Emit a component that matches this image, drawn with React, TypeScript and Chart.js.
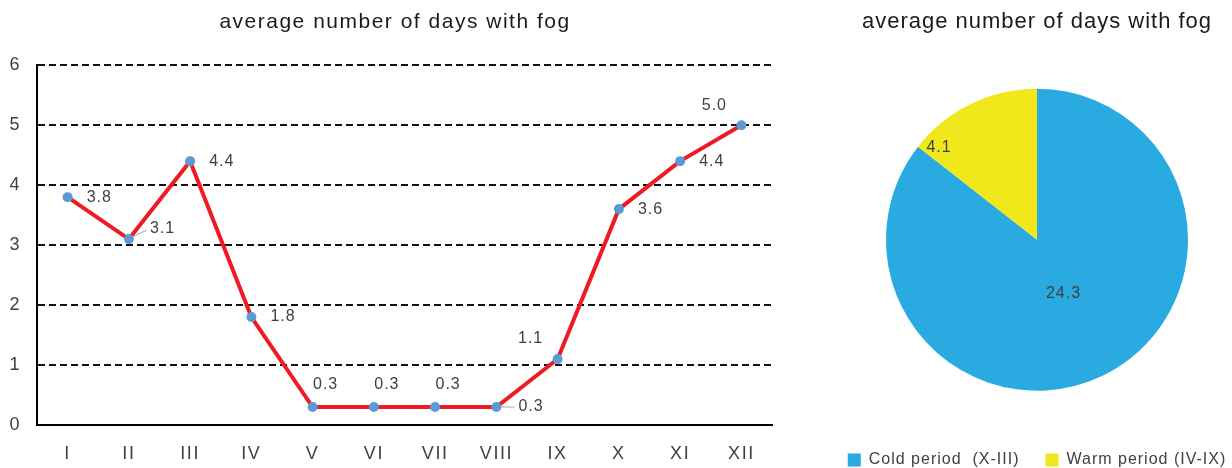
import React, { useEffect, useRef } from "react";
import { Chart, registerables } from "chart.js";

Chart.register(...registerables);

const months = ["I", "II", "III", "IV", "V", "VI", "VII", "VIII", "IX", "X", "XI", "XII"];
const fogDays = [3.8, 3.1, 4.4, 1.8, 0.3, 0.3, 0.3, 0.3, 1.1, 3.6, 4.4, 5.0];
const periodLabels = ["Cold period  (X-III)", "Warm period (IV-IX)"];
const periodDays = [24.3, 4.1];
const yMin = 0;
const yMax = 6;
const yStep = 1;

const chartTitle = "average number of days with fog";

// label placement style per point
const labelPlacement = ["right", "leader", "right", "right", "above", "above", "above", "leaderR", "aboveLeft", "right", "right", "aboveLeft"];

const FONT = "'Liberation Sans', Arial, sans-serif";
const TEXT = "#404040";

const spacing = (sp: string) => ({
  id: "spacing",
  beforeUpdate(c: any) { c.ctx.letterSpacing = sp; },
  beforeLayout(c: any) { c.ctx.letterSpacing = sp; },
  beforeDraw(c: any) { c.ctx.letterSpacing = sp; },
});

const lineLabels = {
  id: "lineLabels",
  afterDatasetsDraw(c: any) {
    const ctx = c.ctx;
    const meta = c.getDatasetMeta(0);
    const data = c.data.datasets[0].data;
    ctx.save();
    ctx.letterSpacing = "1px";
    ctx.font = `16px ${FONT}`;
    ctx.fillStyle = TEXT;
    ctx.textBaseline = "middle";
    meta.data.forEach((pt: any, i: number) => {
      const txt = Number(data[i]).toFixed(1);
      const p = labelPlacement[i];
      let x = pt.x, y = pt.y;
      ctx.textAlign = "left";
      if (p === "right") { x += 19; }
      else if (p === "above") { ctx.textAlign = "center"; x += 13; y -= 22; }
      else if (p === "aboveLeft") { ctx.textAlign = "center"; x -= 27; y -= 20; }
      else if (p === "leader") {
        ctx.strokeStyle = "#A6A6A6"; ctx.lineWidth = 1;
        ctx.beginPath(); ctx.moveTo(pt.x + 5, pt.y - 3); ctx.lineTo(pt.x + 18, pt.y - 9); ctx.stroke();
        x += 21; y -= 11;
      } else if (p === "leaderR") {
        ctx.strokeStyle = "#A6A6A6"; ctx.lineWidth = 1;
        ctx.beginPath(); ctx.moveTo(pt.x + 5, pt.y); ctx.lineTo(pt.x + 18, pt.y); ctx.stroke();
        x += 22;
      }
      ctx.fillText(txt, x, y);
    });
    ctx.restore();
  },
};

const pieSliceLabelPos = [[0.5, 0.4], [0.1, 0.89]];

const pieLabels = {
  id: "pieLabels",
  afterDatasetsDraw(c: any) {
    const ctx = c.ctx;
    const meta = c.getDatasetMeta(0);
    const data = c.data.datasets[0].data;
    ctx.save();
    ctx.letterSpacing = "1px";
    ctx.font = `16px ${FONT}`;
    ctx.fillStyle = TEXT;
    ctx.textAlign = "center";
    ctx.textBaseline = "middle";
    meta.data.forEach((arc: any, i: number) => {
      const [t, f] = pieSliceLabelPos[i];
      const a = arc.startAngle + t * (arc.endAngle - arc.startAngle);
      const r = f * arc.outerRadius;
      ctx.fillText(Number(data[i]).toFixed(1), arc.x + Math.cos(a) * r, arc.y + Math.sin(a) * r);
    });
    ctx.restore();
  },
};

export default function App() {
  const lineRef = useRef<HTMLCanvasElement>(null);
  const pieRef = useRef<HTMLCanvasElement>(null);

  useEffect(() => {
    const line = new Chart(lineRef.current as HTMLCanvasElement, {
      type: "line",
      data: {
        labels: months,
        datasets: [{
          data: fogDays,
          borderColor: "#ED1C24",
          borderWidth: 4,
          pointBackgroundColor: "#5B9BD5",
          pointBorderWidth: 0,
          pointRadius: 5,
          tension: 0,
        }],
      },
      options: {
        responsive: false,
        animation: false,
        layout: { padding: 0 },
        plugins: {
          legend: { display: false },
          tooltip: { enabled: false },
          title: {
            display: true,
            text: chartTitle,
            color: "#1a1a1a",
            font: { family: FONT, size: 21, weight: "normal" },
            padding: { top: 10, bottom: 30 },
          },
        },
        scales: {
          x: {
            offset: true,
            grid: { display: false },
            border: { display: true, color: "#000", width: 2 },
            ticks: { color: TEXT, font: { family: FONT, size: 18 }, padding: 10 },
            afterFit: (s: any) => { s.height = 43; },
          },
          y: {
            min: yMin,
            max: yMax,
            ticks: { stepSize: yStep, color: TEXT, font: { family: FONT, size: 18 }, padding: 16 },
            grid: {
              drawTicks: false,
              color: (ctx: any) => (ctx.tick && ctx.tick.value === 0 ? "rgba(0,0,0,0)" : "#111"),
              lineWidth: 2,
            },
            border: { display: true, color: "#000", width: 2, dash: [7, 4] } as any,
            afterFit: (s: any) => { s.width = 37; },
          },
          yRight: {
            position: "right",
            min: yMin,
            max: yMax,
            grid: { display: false, drawTicks: false },
            border: { display: false },
            ticks: { display: false },
            afterFit: (s: any) => { s.width = 18; },
          },
        },
      } as any,
      plugins: [spacing("1.5px"), lineLabels],
    });

    const pie = new Chart(pieRef.current as HTMLCanvasElement, {
      type: "pie",
      data: {
        labels: periodLabels,
        datasets: [{
          data: periodDays,
          backgroundColor: ["#29ABE2", "#F0E81A"],
          borderWidth: 0,
          radius: 151,
        } as any],
      },
      options: {
        responsive: false,
        animation: false,
        layout: { padding: { top: 0, bottom: -10 } },
        plugins: {
          tooltip: { enabled: false },
          title: {
            display: true,
            text: chartTitle,
            color: "#1a1a1a",
            font: { family: FONT, size: 22, weight: "normal" },
            padding: { top: 9, bottom: 18 },
          },
          legend: {
            position: "bottom",
            labels: {
              color: TEXT,
              font: { family: FONT, size: 16 },
              boxWidth: 13,
              boxHeight: 13,
              padding: 26,
            },
          },
        },
      } as any,
      plugins: [spacing("1px"), pieLabels],
    });

    return () => { line.destroy(); pie.destroy(); };
  }, []);

  return (
    <div style={{ position: "fixed", left: 0, top: 0, width: 1232, height: 468, background: "#fff", overflow: "hidden" }}>
      <canvas ref={lineRef} width={790} height={468} style={{ position: "absolute", left: 0, top: 0 }} />
      <canvas ref={pieRef} width={440} height={468} style={{ position: "absolute", left: 817, top: 0 }} />
    </div>
  );
}
